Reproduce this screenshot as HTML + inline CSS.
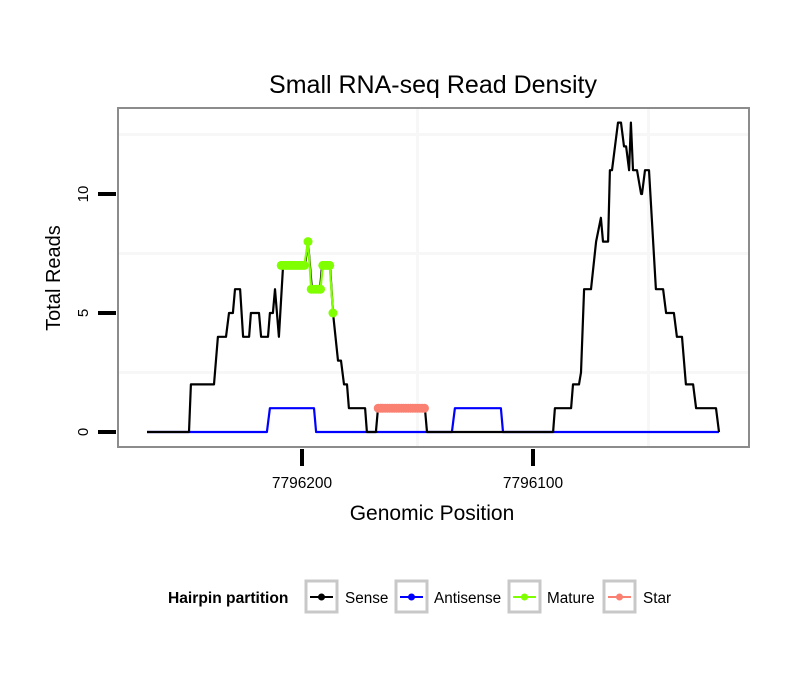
<!DOCTYPE html>
<html><head><meta charset="utf-8"><style>
body{margin:0;background:#fff}
svg text{font-family:"Liberation Sans",sans-serif}
</style></head><body>
<svg id="chart" width="810" height="690" xmlns="http://www.w3.org/2000/svg">
<rect x="0" y="0" width="810" height="690" fill="#fff"/>
<text x="433" y="93" font-size="25" text-anchor="middle">Small RNA-seq Read Density</text>
<g id="grid"></g>
<g id="series"></g>
<rect x="118" y="108" width="631" height="339" fill="none" stroke="#8c8c8c" stroke-width="2"/>
<g id="axes"></g>
<text x="432" y="520" font-size="21" text-anchor="middle">Genomic Position</text>
<text x="60" y="278" font-size="20" text-anchor="middle" transform="rotate(-90 60 278)">Total Reads</text>
<g>
<text x="168" y="603" font-size="15.6" font-weight="bold">Hairpin partition</text>
<g><rect x="306" y="581" width="31" height="31" fill="#fff" stroke="#c8c8c8" stroke-width="3"/><line x1="310" y1="597" x2="333" y2="597" stroke="#000" stroke-width="2"/><circle cx="321.5" cy="597" r="3.5" fill="#000"/><text x="345" y="603" font-size="15.3">Sense</text></g>
<g><rect x="396" y="581" width="31" height="31" fill="#fff" stroke="#c8c8c8" stroke-width="3"/><line x1="400" y1="597" x2="423" y2="597" stroke="#0000ff" stroke-width="2"/><circle cx="411.5" cy="597" r="3.5" fill="#0000ff"/><text x="434" y="603" font-size="15.3">Antisense</text></g>
<g><rect x="509" y="581" width="31" height="31" fill="#fff" stroke="#c8c8c8" stroke-width="3"/><line x1="513" y1="597" x2="536" y2="597" stroke="#7fff00" stroke-width="2"/><circle cx="524.5" cy="597" r="3.5" fill="#7fff00"/><text x="547" y="603" font-size="15.3">Mature</text></g>
<g><rect x="604" y="581" width="31" height="31" fill="#fff" stroke="#c8c8c8" stroke-width="3"/><line x1="608" y1="597" x2="631" y2="597" stroke="#fa8072" stroke-width="2"/><circle cx="619.5" cy="597" r="3.5" fill="#fa8072"/><text x="643" y="603" font-size="15.3">Star</text></g>
</g>
</svg>
<script>
const B = 7796200;
const senseOffsets = [67.1,48.9,48.1,38.1,36.4,32.9,31.6,29.9,29.0,26.8,25.5,22.9,22.1,18.6,17.7,14.7,13.9,12.6,11.7,10.0,8.2,-1.3,-2.6,-4.3,-7.8,-8.7,-12.1,-13.4,-15.6,-16.9,-18.2,-19.5,-20.3,-27.3,-28.1,-32.0,-32.9,-53.2,-54.1,-108.7,-109.5,-116.5,-117.3,-119.9,-120.8,-122.1,-125.1,-127.3,-129.4,-130.3,-132.5,-133.3,-134.2,-135.5,-136.8,-138.1,-139.4,-140.3,-141.6,-142.4,-143.3,-145.0,-146.8,-147.2,-148.5,-150.2,-153.2,-156.3,-157.6,-161.0,-162.3,-164.5,-166.2,-169.3,-170.6,-179.2,-180.5];
const senseValues = [0,0,2,2,4,4,5,5,6,6,4,4,5,5,4,4,5,5,6,4,7,7,8,6,6,7,7,5,3,3,2,2,1,1,0,0,1,1,0,0,1,1,2,2,2.5,6,6,8,9,8,8,11,11,12,13,13,12,12,11,13,11,11,10,10,11,11,6,6,5,5,4,4,2,2,1,1,0];
const antiOffsets = [67.1,15.2,13.9,-5.2,-6.1,-64.9,-66.2,-86.1,-87.0,-180.5];
const antiValues = [0,0,1,1,0,0,1,1,0,0];
const matureOffsets = [9,8,7,6,5,4,3,2,1,0,-1,-2.6,-4,-5,-6,-7,-8,-9,-10,-11,-12,-13.4];
const matureValues = [7,7,7,7,7,7,7,7,7,7,7,8,6,6,6,6,6,7,7,7,7,5];
const starOffsets = [-33,-34,-35,-36,-37,-38,-39,-40,-41,-42,-43,-44,-45,-46,-47,-48,-49,-50,-51,-52,-53];
const starValues = [1,1,1,1,1,1,1,1,1,1,1,1,1,1,1,1,1,1,1,1,1];
const yTicks = [0,5,10];
const xTicks = [7796200,7796100];
const yGrid = [2.5,7.5,12.5];
const xGrid = [7796150,7796050];

const NS='http://www.w3.org/2000/svg';
const xs = p => 302 + (B - p) * 2.31;
const ys = v => 432 - v * 23.8;
function mk(tag, attrs, parent){const e=document.createElementNS(NS,tag);for(const k in attrs)e.setAttribute(k,attrs[k]);parent.appendChild(e);return e;}
const grid=document.getElementById('grid'), ser=document.getElementById('series'), ax=document.getElementById('axes');
yGrid.forEach(v=>{const l=mk('line',{x1:119,x2:748,y1:ys(v),y2:ys(v),stroke:'#f7f7f7','stroke-width':3},grid);

});
xGrid.forEach(p=>{const l=mk('line',{x1:xs(p),x2:xs(p),y1:109,y2:446,stroke:'#f7f7f7','stroke-width':3},grid);

});
function line(offs, vals, color, name){
  const pts=offs.map((o,i)=>xs(B+o).toFixed(1)+','+ys(vals[i]).toFixed(1)).join(' ');
  const pl=mk('polyline',{points:pts,fill:'none',stroke:color,'stroke-width':2.2,'stroke-linejoin':'round'},ser);
  
  
}
function points(offs, vals, color, name){
  offs.forEach((o,i)=>{const c=mk('circle',{cx:xs(B+o),cy:ys(vals[i]),r:4.5,fill:color},ser);
  
  });
}
line(antiOffsets, antiValues, '#0000ff', 'antisense-line');
line(senseOffsets, senseValues, '#000000', 'sense-line');
line(matureOffsets, matureValues, '#7fff00', 'mature-line');
points(matureOffsets, matureValues, '#7fff00', 'mature-point');
line(starOffsets, starValues, '#fa8072', 'star-line');
points(starOffsets, starValues, '#fa8072', 'star-point');
yTicks.forEach(v=>{const t=mk('line',{x1:98,x2:116,y1:ys(v),y2:ys(v),stroke:'#000','stroke-width':4},ax);


const y=ys(v);const tx=mk('text',{x:88,y:y,'font-size':15,'text-anchor':'middle',transform:'rotate(-90 88 '+y+')'},ax);tx.textContent=v;

});
xTicks.forEach(p=>{const t=mk('line',{x1:xs(p),x2:xs(p),y1:449,y2:466,stroke:'#000','stroke-width':4},ax);


const tx=mk('text',{x:xs(p),y:488,'font-size':15.5,'text-anchor':'middle'},ax);tx.textContent=p;

});
</script>
</body></html>
